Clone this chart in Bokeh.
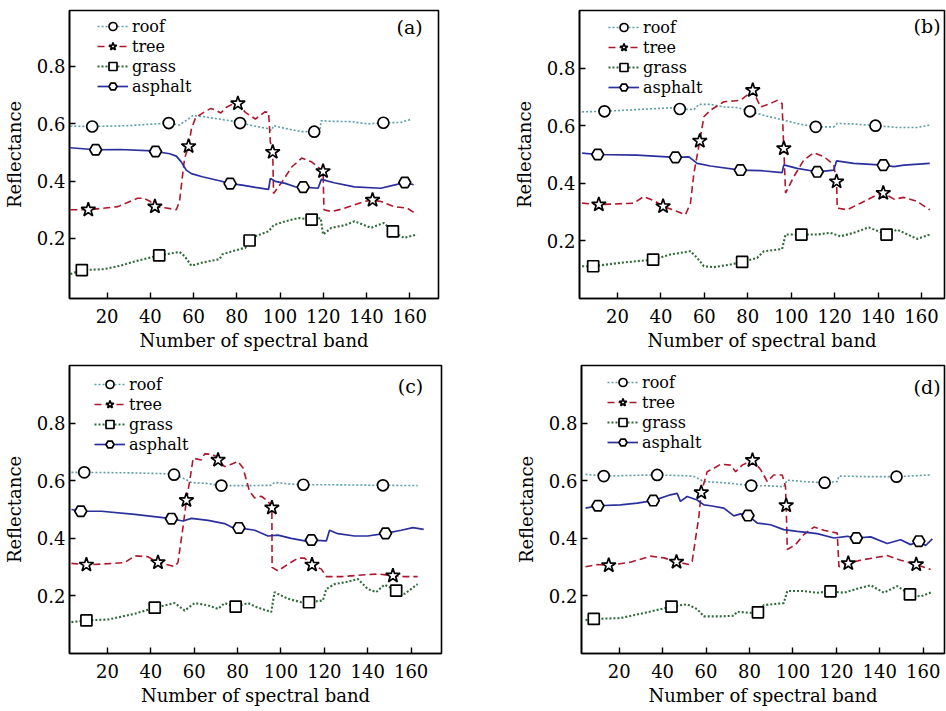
from bokeh.plotting import figure
from bokeh.layouts import column, row
from bokeh.models import Range1d, Legend, LegendItem, FixedTicker, Label
from bokeh.embed import file_html
from bokeh.resources import INLINE

# ---------------- data ----------------
x_ticks = [20, 40, 60, 80, 100, 120, 140, 160]
y_ticks = [0.2, 0.4, 0.6, 0.8]
series_names = ["roof", "tree", "grass", "asphalt"]
panel_tags = ["(a)", "(b)", "(c)", "(d)"]

# ---- panel (a)
roof_a_x = [3, 13.1, 30, 48.5, 53.5, 59.7, 64, 70, 79.5, 81.5, 88.6, 94.7, 96, 97, 102, 110, 115.8, 118.4, 119, 125, 133, 140.5, 147.8, 155.7, 161]
roof_a_y = [0.591, 0.59, 0.593, 0.602, 0.595, 0.628, 0.625, 0.618, 0.607, 0.602, 0.591, 0.582, 0.576, 0.593, 0.584, 0.572, 0.572, 0.575, 0.61, 0.608, 0.607, 0.599, 0.603, 0.604, 0.616]
roof_a_mx = [13.1, 48.5, 81.5, 115.8, 147.8]
roof_a_my = [0.59, 0.602, 0.602, 0.572, 0.603]
tree_a_x = [3, 11.3, 25, 34, 37, 40, 42.1, 47.5, 52, 53.5, 55.8, 57.7, 59, 61, 66, 68, 70, 72.6, 75, 78, 80.5, 84, 88.6, 93, 94.7, 95.5, 96.6, 97, 101, 105.4, 110, 114.6, 119.9, 120.3, 123.7, 128.3, 134.4, 139, 142.8, 146.6, 152.7, 158.8, 163.4]
tree_a_y = [0.30, 0.30, 0.311, 0.34, 0.34, 0.329, 0.311, 0.306, 0.30, 0.329, 0.478, 0.521, 0.582, 0.622, 0.645, 0.653, 0.648, 0.637, 0.656, 0.668, 0.67, 0.639, 0.616, 0.641, 0.639, 0.536, 0.501, 0.357, 0.398, 0.449, 0.48, 0.467, 0.434, 0.30, 0.294, 0.302, 0.317, 0.329, 0.334, 0.329, 0.311, 0.306, 0.283]
tree_a_mx = [11.3, 42.1, 57.7, 80.5, 96.6, 119.9, 142.8]
tree_a_my = [0.30, 0.311, 0.521, 0.67, 0.501, 0.434, 0.334]
grass_a_x = [3, 8.3, 18.5, 26, 33.7, 44.1, 53.5, 55.8, 59, 64, 72, 73.4, 79.5, 84, 85.9, 88.6, 94.7, 97, 102.4, 108.5, 114.6, 118.8, 119.9, 123.7, 129.8, 134.4, 137.4, 142, 148, 152.2, 157.3, 163.4]
grass_a_y = [0.076, 0.09, 0.093, 0.105, 0.122, 0.141, 0.153, 0.139, 0.105, 0.116, 0.128, 0.145, 0.159, 0.168, 0.193, 0.208, 0.225, 0.246, 0.26, 0.271, 0.266, 0.271, 0.214, 0.237, 0.246, 0.26, 0.251, 0.237, 0.254, 0.225, 0.202, 0.214]
grass_a_mx = [8.3, 44.1, 85.9, 114.6, 152.2]
grass_a_my = [0.09, 0.141, 0.193, 0.266, 0.225]
asph_a_x = [3, 14.7, 26, 41, 42.4, 49, 52, 54.3, 56.6, 59, 64, 72, 76.9, 82.5, 88.6, 94.7, 95.5, 97.8, 102.4, 107, 110.7, 117.6, 119.1, 125, 134.4, 146.6, 152.7, 157.7, 161.8]
asph_a_y = [0.516, 0.509, 0.51, 0.505, 0.503, 0.495, 0.487, 0.467, 0.438, 0.426, 0.415, 0.401, 0.391, 0.386, 0.378, 0.371, 0.409, 0.399, 0.392, 0.38, 0.379, 0.375, 0.406, 0.394, 0.38, 0.375, 0.386, 0.395, 0.387]
asph_a_mx = [14.7, 42.4, 76.9, 110.7, 157.7]
asph_a_my = [0.509, 0.503, 0.391, 0.379, 0.395]

# ---- panel (b)
roof_b_x = [3.7, 14, 29, 44.4, 48.7, 55.2, 57.5, 62.8, 69, 75.1, 81, 87.4, 96.6, 104.3, 111.3, 119.6, 121.2, 128.8, 138.8, 148.8, 158, 163.8]
roof_b_y = [0.648, 0.65, 0.656, 0.662, 0.658, 0.656, 0.674, 0.674, 0.665, 0.663, 0.65, 0.636, 0.619, 0.605, 0.596, 0.596, 0.608, 0.606, 0.6, 0.594, 0.594, 0.602]
roof_b_mx = [14, 48.7, 81, 111.3, 138.8]
roof_b_my = [0.65, 0.658, 0.65, 0.596, 0.6]
tree_b_x = [3.7, 11.4, 27.5, 32.1, 37.5, 41, 47.5, 51.3, 53.6, 55.2, 57.9, 59.8, 62.8, 69, 73.6, 76.6, 79.7, 82.3, 85.9, 90.5, 93.5, 95.8, 96.3, 96.6, 97.4, 101.2, 105.8, 110.4, 115, 119.6, 120.9, 121.2, 125.8, 131.9, 138, 142.4, 147.3, 151.9, 158, 163.8]
tree_b_y = [0.331, 0.326, 0.331, 0.354, 0.337, 0.32, 0.302, 0.291, 0.331, 0.435, 0.547, 0.631, 0.654, 0.683, 0.686, 0.688, 0.706, 0.723, 0.665, 0.677, 0.688, 0.677, 0.573, 0.521, 0.366, 0.423, 0.481, 0.506, 0.493, 0.464, 0.406, 0.314, 0.308, 0.331, 0.354, 0.366, 0.345, 0.351, 0.337, 0.308]
tree_b_mx = [11.4, 41, 57.9, 82.3, 96.6, 120.9, 142.4]
tree_b_my = [0.326, 0.32, 0.547, 0.723, 0.521, 0.406, 0.366]
grass_b_x = [3.7, 8.8, 21.4, 36.4, 44.4, 53.6, 56.7, 59.8, 64.4, 72, 77.4, 84.3, 87.4, 95.8, 97.4, 104.7, 112, 118, 122.7, 128.8, 135.7, 139.6, 143.9, 148.8, 158, 163.8]
grass_b_y = [0.112, 0.112, 0.124, 0.135, 0.153, 0.164, 0.141, 0.112, 0.109, 0.118, 0.127, 0.141, 0.164, 0.172, 0.222, 0.222, 0.222, 0.228, 0.216, 0.228, 0.247, 0.235, 0.222, 0.239, 0.207, 0.222]
grass_b_mx = [8.8, 36.4, 77.4, 104.7, 143.9]
grass_b_my = [0.112, 0.135, 0.127, 0.222, 0.222]
asph_b_x = [3.7, 10.9, 29, 46.7, 52.9, 56.7, 62.8, 76.6, 85.9, 95.8, 96.6, 102.7, 112, 119.6, 120.9, 128.8, 142.4, 147.3, 151.9, 163.8]
asph_b_y = [0.505, 0.5, 0.498, 0.49, 0.492, 0.469, 0.46, 0.446, 0.444, 0.437, 0.464, 0.452, 0.44, 0.446, 0.478, 0.469, 0.463, 0.458, 0.463, 0.469]
asph_b_mx = [10.9, 46.7, 76.6, 112, 142.4]
asph_b_my = [0.5, 0.49, 0.446, 0.44, 0.463]

# ---- panel (c)
roof_c_x = [3.4, 9.3, 32.6, 47.9, 50.7, 54.8, 58.7, 66.4, 72.5, 86.3, 95.5, 97, 103.2, 110.3, 121.6, 147, 163]
roof_c_y = [0.629, 0.629, 0.627, 0.624, 0.621, 0.609, 0.594, 0.59, 0.583, 0.583, 0.584, 0.594, 0.589, 0.586, 0.586, 0.584, 0.583]
roof_c_mx = [9.3, 50.7, 72.5, 110.3, 147]
roof_c_my = [0.629, 0.621, 0.583, 0.586, 0.584]
tree_c_x = [3.4, 10.3, 23.4, 28, 32.6, 38.7, 43.3, 51, 52.5, 54.8, 56.4, 57.9, 59.5, 63.3, 64.8, 67.9, 70.2, 71, 74, 77.1, 80.2, 82.5, 85.5, 87.9, 90.9, 94, 95.8, 95.9, 98.6, 103.2, 107.8, 110.9, 114.3, 118.6, 120.9, 127.8, 140, 144.6, 151.6, 157, 163]
tree_c_y = [0.313, 0.308, 0.313, 0.316, 0.339, 0.336, 0.316, 0.302, 0.316, 0.437, 0.532, 0.598, 0.678, 0.672, 0.693, 0.692, 0.684, 0.672, 0.649, 0.657, 0.667, 0.644, 0.563, 0.54, 0.546, 0.529, 0.506, 0.299, 0.287, 0.31, 0.331, 0.331, 0.308, 0.293, 0.267, 0.267, 0.274, 0.276, 0.27, 0.267, 0.267]
tree_c_mx = [10.3, 43.3, 56.4, 71, 95.8, 114.3, 151.6]
tree_c_my = [0.308, 0.316, 0.532, 0.672, 0.506, 0.308, 0.27]
grass_c_x = [3.4, 10.3, 20.3, 32.6, 41.8, 51, 55.6, 60.2, 66.4, 71, 74, 79.1, 84.8, 89.4, 95.5, 97, 103.2, 109.3, 112.9, 119.3, 120.9, 124.7, 130.8, 135.4, 140, 143.9, 147.7, 153.1, 157, 163]
grass_c_y = [0.109, 0.115, 0.118, 0.138, 0.159, 0.175, 0.149, 0.175, 0.167, 0.155, 0.175, 0.163, 0.175, 0.159, 0.144, 0.213, 0.19, 0.178, 0.178, 0.184, 0.224, 0.241, 0.249, 0.259, 0.224, 0.213, 0.239, 0.218, 0.207, 0.241]
grass_c_mx = [10.3, 41.8, 79.1, 112.9, 153.1]
grass_c_my = [0.115, 0.159, 0.163, 0.178, 0.218]
asph_c_x = [3.4, 7.7, 17.2, 32.6, 49.5, 54.8, 58.7, 66.4, 74, 77.1, 80.6, 87.9, 94, 98.6, 104.7, 110.9, 114, 120.9, 122.4, 126.2, 133.9, 140, 148.2, 155.4, 160.8, 165.8]
asph_c_y = [0.5, 0.494, 0.494, 0.483, 0.468, 0.46, 0.469, 0.462, 0.451, 0.439, 0.436, 0.428, 0.408, 0.411, 0.4, 0.391, 0.394, 0.391, 0.428, 0.416, 0.408, 0.408, 0.417, 0.428, 0.437, 0.431]
asph_c_mx = [7.7, 49.5, 80.6, 114, 148.2]
asph_c_my = [0.494, 0.468, 0.436, 0.394, 0.417]

# ---- panel (d)
roof_d_x = [4.5, 12.9, 28.3, 37.5, 51.3, 54.4, 59, 68.2, 80.8, 89.7, 95.8, 97.4, 105, 114.6, 120.4, 121.2, 135.8, 147.7, 163.4]
roof_d_y = [0.622, 0.616, 0.619, 0.62, 0.617, 0.615, 0.597, 0.593, 0.583, 0.582, 0.579, 0.602, 0.597, 0.593, 0.597, 0.616, 0.614, 0.614, 0.62]
roof_d_mx = [12.9, 37.5, 80.8, 114.6, 147.7]
roof_d_my = [0.616, 0.62, 0.583, 0.593, 0.614]
tree_d_x = [4.5, 9.9, 15.2, 25.2, 34.4, 40.6, 46.4, 52.1, 53.6, 56.7, 57.8, 60.5, 63.6, 66.7, 71.3, 73.6, 76.6, 81.4, 85.1, 88.2, 91.2, 95.1, 96.6, 96.9, 97.4, 101.2, 105, 109.7, 114.3, 120.4, 121.2, 125.5, 131.1, 137.3, 143.4, 149.6, 156.8, 163.4]
tree_d_y = [0.301, 0.309, 0.306, 0.317, 0.338, 0.332, 0.318, 0.309, 0.32, 0.476, 0.559, 0.631, 0.643, 0.657, 0.654, 0.631, 0.654, 0.671, 0.639, 0.597, 0.62, 0.62, 0.579, 0.514, 0.361, 0.378, 0.413, 0.439, 0.428, 0.418, 0.301, 0.313, 0.324, 0.332, 0.34, 0.324, 0.309, 0.292]
tree_d_mx = [15.2, 46.4, 57.8, 81.4, 96.9, 125.5, 156.8]
tree_d_my = [0.306, 0.318, 0.559, 0.671, 0.514, 0.313, 0.309]
grass_d_x = [4.5, 8.3, 20.6, 32.9, 44.1, 51.3, 55.9, 59, 66.7, 72.8, 74.3, 80.5, 83.9, 86.6, 95.8, 97.4, 105, 111.2, 117.3, 123.5, 129.6, 135.8, 141.9, 148, 153.9, 158.8, 164.2]
grass_d_y = [0.116, 0.12, 0.123, 0.143, 0.163, 0.171, 0.154, 0.129, 0.129, 0.131, 0.145, 0.141, 0.143, 0.168, 0.175, 0.217, 0.217, 0.211, 0.216, 0.211, 0.225, 0.237, 0.211, 0.234, 0.205, 0.198, 0.214]
grass_d_mx = [8.3, 44.1, 83.9, 117.3, 153.9]
grass_d_my = [0.12, 0.163, 0.143, 0.216, 0.205]
asph_d_x = [4.5, 10.2, 20.6, 28.3, 35.7, 43.6, 46.7, 48.2, 51.3, 55.9, 59, 62.1, 68.2, 72.8, 75.9, 79.3, 83.6, 89.7, 95.8, 102, 111.2, 118.9, 125, 129.2, 135.8, 143.4, 149.6, 154.2, 158, 161.1, 164.2]
asph_d_y = [0.505, 0.513, 0.516, 0.522, 0.531, 0.551, 0.556, 0.528, 0.545, 0.533, 0.516, 0.513, 0.505, 0.478, 0.485, 0.479, 0.453, 0.447, 0.43, 0.424, 0.416, 0.401, 0.407, 0.401, 0.405, 0.382, 0.395, 0.378, 0.39, 0.375, 0.398]
asph_d_mx = [10.2, 35.7, 79.3, 129.2, 158]
asph_d_my = [0.513, 0.531, 0.479, 0.401, 0.39]

# ---------------- styling ----------------
SERIF = "DejaVu Serif"
STYLES = {
    "roof":    dict(color="#5c9ea8", dash="2 2", width=1.6, marker="circle", size=11),
    "tree":    dict(color="#b0162c", dash="7 4", width=1.6, marker="star", size=15),
    "grass":   dict(color="#2f6b3a", dash="2 2", width=2.1, marker="square", size=11),
    "asphalt": dict(color="#2a2f9c", dash="solid", width=1.7, marker="hex", size=12),
}


def make_panel(tag, data, xr, yr, w, h, borders, leg_xy, tag_xy):
    left, right, top, bottom = borders
    p = figure(width=w, height=h, x_range=Range1d(*xr), y_range=Range1d(*yr),
               output_backend="svg", toolbar_location=None,
               min_border_left=left, min_border_right=right,
               min_border_top=top, min_border_bottom=bottom,
               x_axis_label="Number of spectral band", y_axis_label="Reflectance")
    p.grid.visible = False
    p.outline_line_color = "black"
    p.outline_line_width = 1.6
    p.background_fill_color = "white"
    p.border_fill_color = "white"
    p.xaxis.ticker = FixedTicker(ticks=x_ticks)
    p.yaxis.ticker = FixedTicker(ticks=y_ticks)
    for ax in (p.xaxis, p.yaxis):
        ax.axis_line_color = "black"
        ax.axis_line_width = 1.6
        ax.major_tick_in = 6
        ax.major_tick_out = 0
        ax.major_tick_line_color = "black"
        ax.major_tick_line_width = 1.4
        ax.minor_tick_line_color = None
        ax.major_label_text_font = SERIF
        ax.major_label_text_font_size = "18px"
        ax.major_label_text_color = "black"
        ax.axis_label_text_font = SERIF
        ax.axis_label_text_font_size = "18px"
        ax.axis_label_text_font_style = "normal"
        ax.axis_label_text_color = "black"
    p.xaxis.major_label_standoff = 10
    p.xaxis.axis_label_standoff = 4
    p.yaxis.major_label_standoff = 4
    p.yaxis.axis_label_standoff = 9

    items = []
    for name in series_names:
        xs, ys, mx, my = data[name]
        st = STYLES[name]
        ln = p.line(xs, ys, line_color=st["color"], line_width=st["width"], line_dash=st["dash"])
        sc = p.scatter(mx, my, marker=st["marker"], size=st["size"], fill_color="white",
                       line_color="black", line_width=1.7)
        items.append(LegendItem(label=name, renderers=[ln, sc]))
    legend = Legend(items=items, location=leg_xy, border_line_alpha=0,
                    background_fill_alpha=0, padding=0, margin=0, spacing=0,
                    label_height=20, glyph_height=20, glyph_width=31, label_standoff=4,
                    label_text_font=SERIF, label_text_font_size="16px",
                    label_text_color="black")
    p.add_layout(legend)
    p.add_layout(Label(x=tag_xy[0], y=tag_xy[1], text=tag, text_align="right",
                       text_baseline="middle", text_font=SERIF, text_font_size="19px",
                       text_color="black"))
    return p


data_a = {"roof": (roof_a_x, roof_a_y, roof_a_mx, roof_a_my),
          "tree": (tree_a_x, tree_a_y, tree_a_mx, tree_a_my),
          "grass": (grass_a_x, grass_a_y, grass_a_mx, grass_a_my),
          "asphalt": (asph_a_x, asph_a_y, asph_a_mx, asph_a_my)}
data_b = {"roof": (roof_b_x, roof_b_y, roof_b_mx, roof_b_my),
          "tree": (tree_b_x, tree_b_y, tree_b_mx, tree_b_my),
          "grass": (grass_b_x, grass_b_y, grass_b_mx, grass_b_my),
          "asphalt": (asph_b_x, asph_b_y, asph_b_mx, asph_b_my)}
data_c = {"roof": (roof_c_x, roof_c_y, roof_c_mx, roof_c_my),
          "tree": (tree_c_x, tree_c_y, tree_c_mx, tree_c_my),
          "grass": (grass_c_x, grass_c_y, grass_c_mx, grass_c_my),
          "asphalt": (asph_c_x, asph_c_y, asph_c_mx, asph_c_my)}
data_d = {"roof": (roof_d_x, roof_d_y, roof_d_mx, roof_d_my),
          "tree": (tree_d_x, tree_d_y, tree_d_mx, tree_d_my),
          "grass": (grass_d_x, grass_d_y, grass_d_mx, grass_d_my),
          "asphalt": (asph_d_x, asph_d_y, asph_d_mx, asph_d_my)}

pa = make_panel(panel_tags[0], data_a, (2.6, 173.3), (-0.009, 0.994), 473, 355, (65, 35, 7, 57), (28, 202), (166, 0.935))
pb = make_panel(panel_tags[1], data_b, (2.5, 170.6), (0.0, 1.0), 473, 355, (106, 2, 10, 56), (29, 201), (168.8, 0.945))
pc = make_panel(panel_tags[2], data_c, (2.5, 174.0), (0.0, 1.0), 473, 356, (68, 32, 10, 57), (25, 199), (165.6, 0.93))
pd = make_panel(panel_tags[3], data_d, (2.65, 169.8), (0.0, 1.0), 473, 356, (108, 2, 9, 58), (26, 201), (168, 0.925))

layout = column(row(pa, pb), row(pc, pd))
open("out.html", "w").write(file_html(layout, INLINE))
